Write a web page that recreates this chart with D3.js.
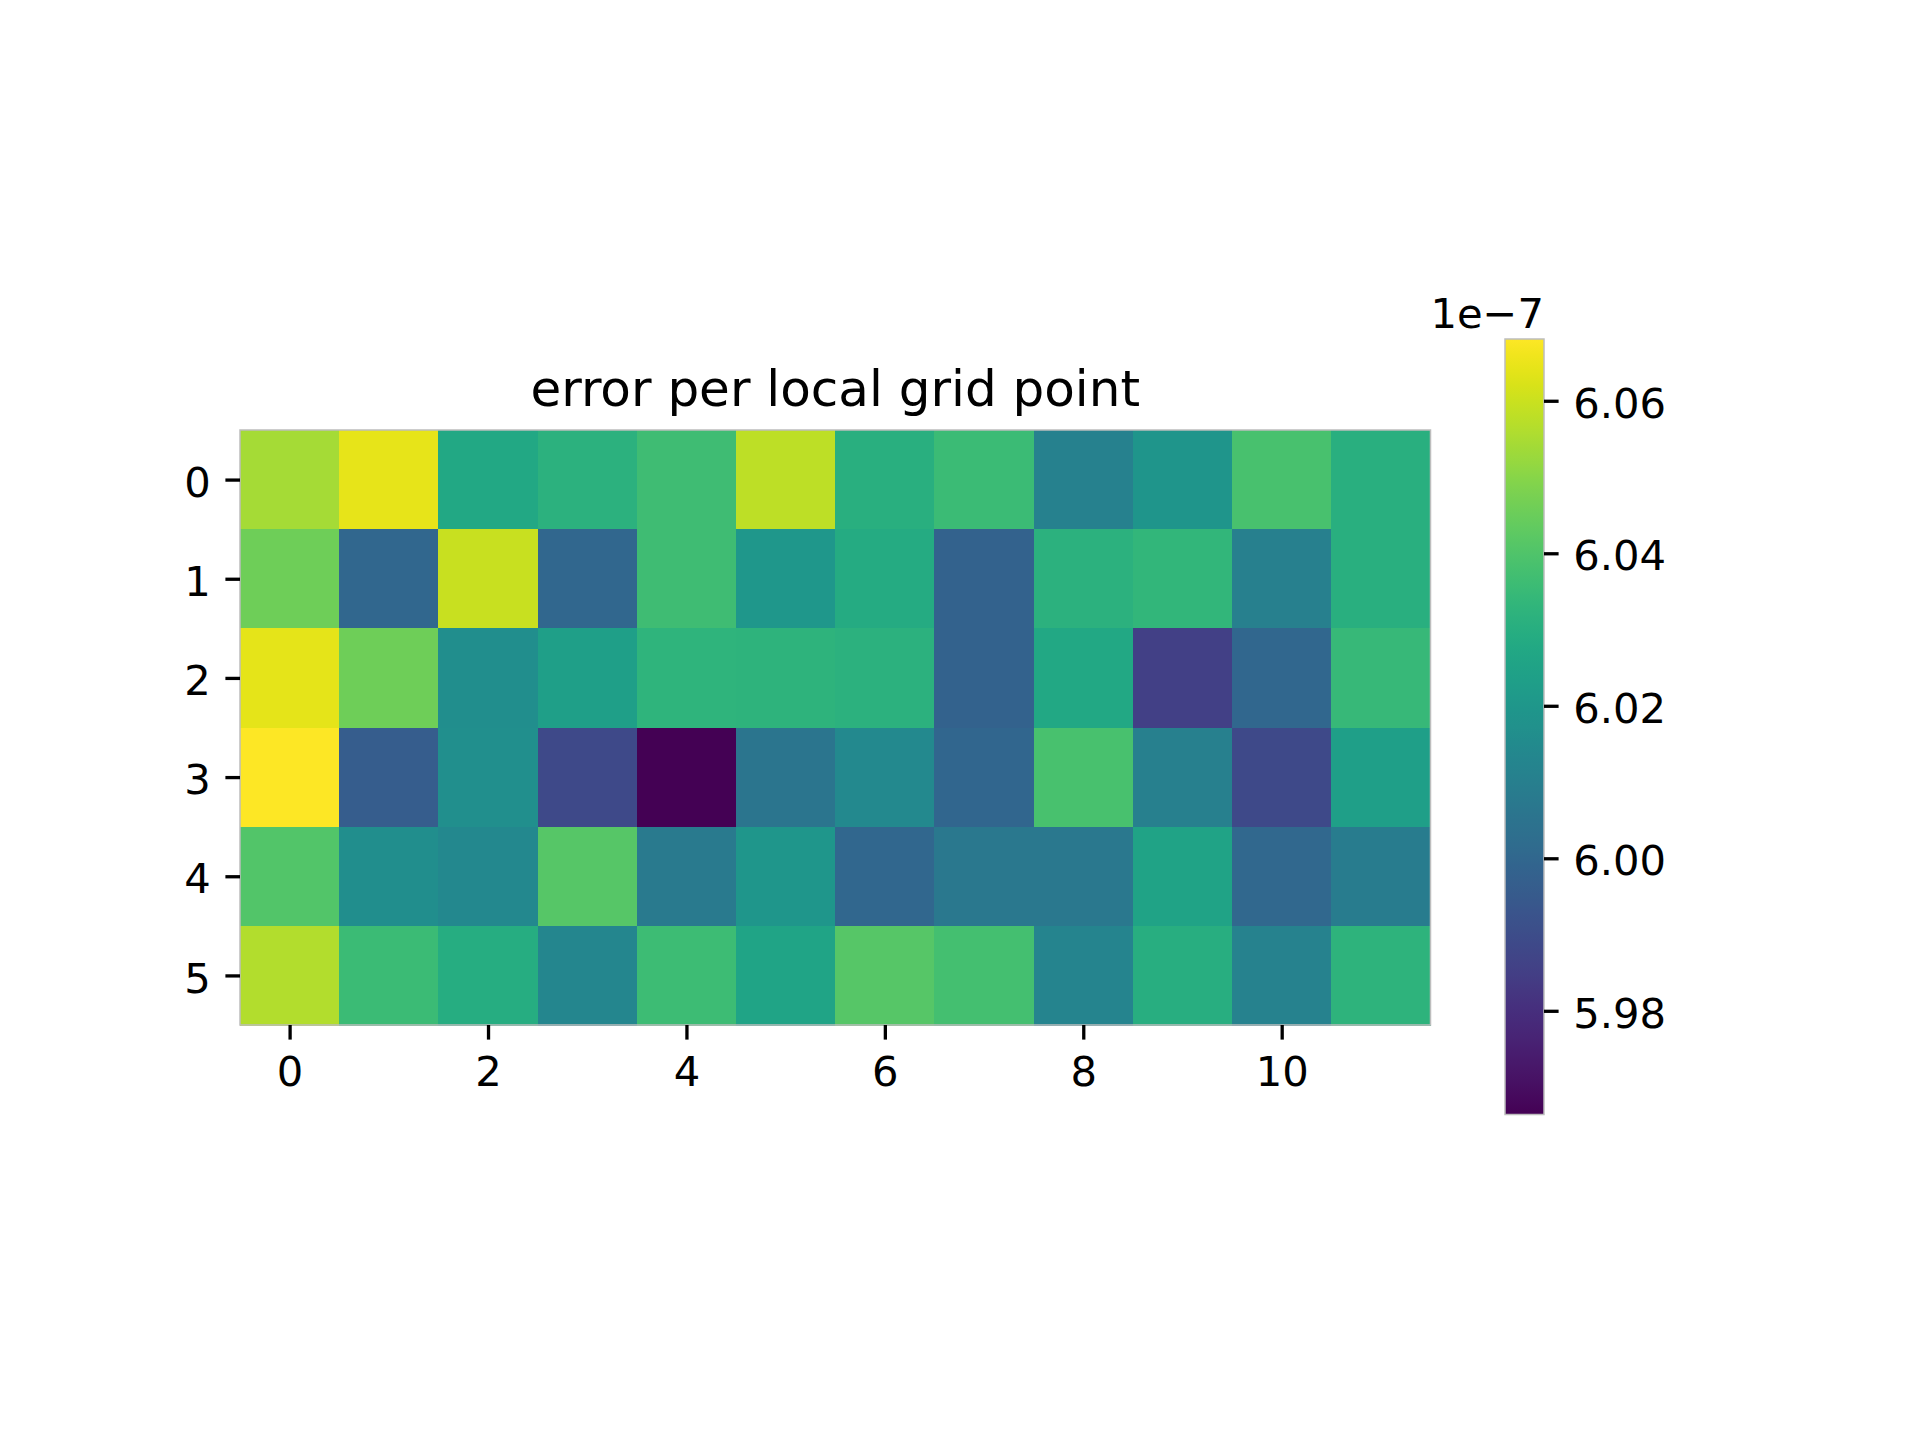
<!DOCTYPE html>
<html>
<head>
<meta charset="utf-8">
<script src="https://cdn.jsdelivr.net/npm/d3@7"></script>
<style>
  html, body { margin: 0; padding: 0; background: #fff; }
  svg { display: block; font-family: "DejaVu Sans", sans-serif; }
</style>
</head>
<body>
<svg id="chart" width="1920" height="1440"></svg>
<script>
// Values in units of 1e-7
const rows = [0, 1, 2, 3, 4, 5];
const cols = [0, 1, 2, 3, 4, 5, 6, 7, 8, 9, 10, 11];
const row0 = [6.0544, 6.0645, 6.0274, 6.0315, 6.0366, 6.0579, 6.0305, 6.0356, 6.0106, 6.0193, 6.0386, 6.0305];
const row1 = [6.0457, 6.0000, 6.0595, 6.0000, 6.0366, 6.0203, 6.0284, 5.9979, 6.0315, 6.0335, 6.0101, 6.0305];
const row2 = [6.0640, 6.0457, 6.0162, 6.0234, 6.0325, 6.0320, 6.0315, 5.9979, 6.0274, 5.9857, 6.0000, 6.0345];
const row3 = [6.0681, 5.9959, 6.0167, 5.9888, 5.9664, 6.0061, 6.0142, 5.9995, 6.0386, 6.0101, 5.9888, 6.0234];
const row4 = [6.0406, 6.0162, 6.0137, 6.0411, 6.0081, 6.0198, 6.0000, 6.0071, 6.0071, 6.0254, 6.0005, 6.0086];
const row5 = [6.0564, 6.0356, 6.0295, 6.0132, 6.0361, 6.0259, 6.0411, 6.0376, 6.0122, 6.0300, 6.0111, 6.0320];
const grid = [row0, row1, row2, row3, row4, row5];
const xTicks = [0, 2, 4, 6, 8, 10];
const yTicks = [0, 1, 2, 3, 4, 5];
const cbTicks = [5.98, 6.00, 6.02, 6.04, 6.06];
const titleText = "error per local grid point";
const offsetText = "1e\u22127";

(function () {
const svg = d3.select("#chart");
const FS = 41.7;

// Heatmap axes
const pL = 240, pR = 1430.5, pT = 430, pB = 1025;
const x = d3.scaleLinear().domain([-0.5, cols.length - 0.5]).range([pL, pR]);
const y = d3.scaleLinear().domain([-0.5, rows.length - 0.5]).range([pT, pB]);

const all = grid.flat();
const ext = d3.extent(all);
const color = d3.scaleSequential(d3.interpolateViridis).domain(ext);

const cells = [];
grid.forEach((r, i) => r.forEach((v, j) => cells.push({ i, j, v })));

svg.append("g").selectAll("rect").data(cells).join("rect")
  .attr("x", d => x(d.j - 0.5))
  .attr("y", d => y(d.i - 0.5))
  .attr("width", x(1) - x(0) + 0.5)
  .attr("height", y(1) - y(0) + 0.5)
  .attr("fill", d => color(d.v))
  .attr("shape-rendering", "crispEdges");

svg.append("rect")
  .attr("x", pL).attr("y", pT)
  .attr("width", pR - pL).attr("height", pB - pT)
  .attr("fill", "none").attr("stroke", "#bdbdbd").attr("stroke-width", 1.5);

// X axis
const xAxis = d3.axisBottom(x).tickValues(xTicks).tickSize(14.6).tickPadding(17).tickFormat(d3.format("d"));
const gx = svg.append("g").attr("transform", `translate(0,${pB})`).call(xAxis);
gx.select(".domain").remove();
gx.selectAll("line").attr("stroke", "#000").attr("stroke-width", 3.3);
gx.selectAll("text").attr("font-size", FS).attr("fill", "#000").attr("font-family", "DejaVu Sans");

// Y axis
const yAxis = d3.axisLeft(y).tickValues(yTicks).tickSize(14.6).tickPadding(14.6).tickFormat(d3.format("d"));
const gy = svg.append("g").attr("transform", `translate(${pL},0)`).call(yAxis);
gy.select(".domain").remove();
gy.selectAll("line").attr("stroke", "#000").attr("stroke-width", 3.3);
gy.selectAll("text").attr("font-size", FS).attr("fill", "#000").attr("font-family", "DejaVu Sans").attr("dy", "0.4em");

// Title
svg.append("text")
  .attr("x", (pL + pR) / 2).attr("y", 406)
  .attr("text-anchor", "middle")
  .attr("font-size", 50).attr("fill", "#000")
  .text(titleText);

// Colorbar
const cbL = 1505, cbR = 1544, cbT = 339, cbB = 1114.5;
const cy = d3.scaleLinear().domain(ext).range([cbB, cbT]);
const defs = svg.append("defs");
const grad = defs.append("linearGradient").attr("id", "cbgrad")
  .attr("x1", 0).attr("y1", 1).attr("x2", 0).attr("y2", 0);
d3.range(0, 1.0001, 0.02).forEach(t => {
  grad.append("stop").attr("offset", t).attr("stop-color", d3.interpolateViridis(t));
});
svg.append("rect")
  .attr("x", cbL).attr("y", cbT)
  .attr("width", cbR - cbL).attr("height", cbB - cbT)
  .attr("fill", "url(#cbgrad)")
  .attr("stroke", "#bdbdbd").attr("stroke-width", 1.5);

const cAxis = d3.axisRight(cy).tickValues(cbTicks).tickSize(14.6).tickPadding(14.6).tickFormat(d3.format(".2f"));
const gc = svg.append("g").attr("transform", `translate(${cbR},0)`).call(cAxis);
gc.select(".domain").remove();
gc.selectAll("line").attr("stroke", "#000").attr("stroke-width", 3.3);
gc.selectAll("text").attr("font-size", FS).attr("fill", "#000").attr("font-family", "DejaVu Sans").attr("dy", "0.4em");

svg.append("text")
  .attr("x", cbR).attr("y", 328)
  .attr("text-anchor", "end")
  .attr("font-size", FS).attr("fill", "#000")
  .text(offsetText);
})();
</script>
</body>
</html>
